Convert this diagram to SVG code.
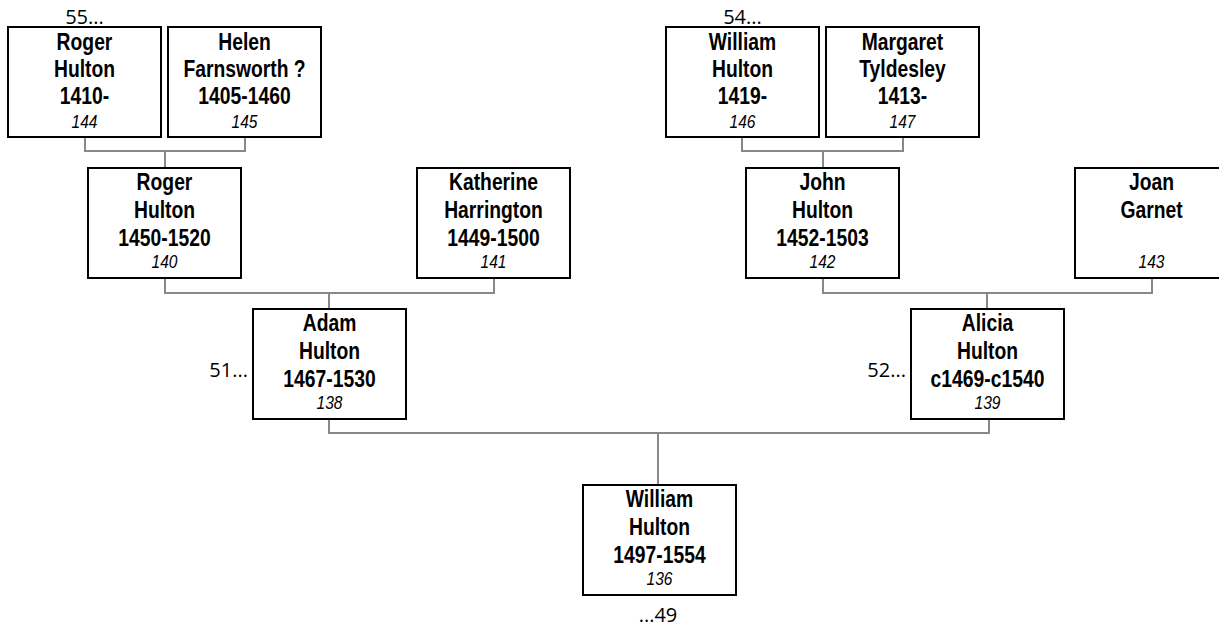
<svg xmlns="http://www.w3.org/2000/svg" width="1219" height="628" viewBox="0 0 1219 628">
<style>
.box{fill:#fff;stroke:#000;stroke-width:2}
.n{font-family:"Liberation Sans",Arial,sans-serif;font-weight:bold;font-size:23px;text-anchor:middle;fill:#000}
.id{font-family:"Liberation Sans",Arial,sans-serif;font-style:italic;font-size:18.5px;text-anchor:middle;fill:#000}
.ref{font-family:"Open Sans","Noto Sans",sans-serif;font-size:20px;fill:#000}
.c{fill:none;stroke:#888;stroke-width:2}
</style>
<rect width="1219" height="628" fill="#fff"/>
<g id="connectors">
<path class="c" d="M85,137V151H245V137M165,151V168"/>
<path class="c" d="M165,278V293H494V278M329,293V309"/>
<path class="c" d="M742,137V151H903V137M823,151V168"/>
<path class="c" d="M823,278V293H1152V278M987,293V309"/>
<path class="c" d="M329,419V433H989V419M658,433V485"/>
</g>
<g id="p144">
<rect class="box" x="8" y="27" width="153" height="110"/>
<text class="n" transform="matrix(0.84,0,0,1,84.5,50)">Roger</text>
<text class="n" transform="matrix(0.84,0,0,1,84.5,77)">Hulton</text>
<text class="n" transform="matrix(0.84,0,0,1,84.5,104)">1410-</text>
<text class="id" transform="matrix(0.84,0,0,1,84.5,128)">144</text>
<text class="ref" x="84.5" y="24" text-anchor="middle">55...</text>
</g>
<g id="p145">
<rect class="box" x="168" y="27" width="153" height="110"/>
<text class="n" transform="matrix(0.84,0,0,1,244.5,50)">Helen</text>
<text class="n" transform="matrix(0.84,0,0,1,244.5,77)">Farnsworth ?</text>
<text class="n" transform="matrix(0.84,0,0,1,244.5,104)">1405-1460</text>
<text class="id" transform="matrix(0.84,0,0,1,244.5,128)">145</text>
</g>
<g id="p146">
<rect class="box" x="666" y="27" width="153" height="110"/>
<text class="n" transform="matrix(0.84,0,0,1,742.5,50)">William</text>
<text class="n" transform="matrix(0.84,0,0,1,742.5,77)">Hulton</text>
<text class="n" transform="matrix(0.84,0,0,1,742.5,104)">1419-</text>
<text class="id" transform="matrix(0.84,0,0,1,742.5,128)">146</text>
<text class="ref" x="742.5" y="24" text-anchor="middle">54...</text>
</g>
<g id="p147">
<rect class="box" x="826" y="27" width="153" height="110"/>
<text class="n" transform="matrix(0.84,0,0,1,902.5,50)">Margaret</text>
<text class="n" transform="matrix(0.84,0,0,1,902.5,77)">Tyldesley</text>
<text class="n" transform="matrix(0.84,0,0,1,902.5,104)">1413-</text>
<text class="id" transform="matrix(0.84,0,0,1,902.5,128)">147</text>
</g>
<g id="p140">
<rect class="box" x="88" y="168" width="153" height="110"/>
<text class="n" transform="matrix(0.84,0,0,1,164.5,190)">Roger</text>
<text class="n" transform="matrix(0.84,0,0,1,164.5,218)">Hulton</text>
<text class="n" transform="matrix(0.84,0,0,1,164.5,246)">1450-1520</text>
<text class="id" transform="matrix(0.84,0,0,1,164.5,268)">140</text>
</g>
<g id="p141">
<rect class="box" x="417" y="168" width="153" height="110"/>
<text class="n" transform="matrix(0.84,0,0,1,493.5,190)">Katherine</text>
<text class="n" transform="matrix(0.84,0,0,1,493.5,218)">Harrington</text>
<text class="n" transform="matrix(0.84,0,0,1,493.5,246)">1449-1500</text>
<text class="id" transform="matrix(0.84,0,0,1,493.5,268)">141</text>
</g>
<g id="p142">
<rect class="box" x="746" y="168" width="153" height="110"/>
<text class="n" transform="matrix(0.84,0,0,1,822.5,190)">John</text>
<text class="n" transform="matrix(0.84,0,0,1,822.5,218)">Hulton</text>
<text class="n" transform="matrix(0.84,0,0,1,822.5,246)">1452-1503</text>
<text class="id" transform="matrix(0.84,0,0,1,822.5,268)">142</text>
</g>
<g id="p143">
<rect class="box" x="1075" y="168" width="153" height="110"/>
<text class="n" transform="matrix(0.84,0,0,1,1151.5,190)">Joan</text>
<text class="n" transform="matrix(0.84,0,0,1,1151.5,218)">Garnet</text>
<text class="id" transform="matrix(0.84,0,0,1,1151.5,268)">143</text>
</g>
<g id="p138">
<rect class="box" x="253" y="309" width="153" height="110"/>
<text class="n" transform="matrix(0.84,0,0,1,329.5,331)">Adam</text>
<text class="n" transform="matrix(0.84,0,0,1,329.5,359)">Hulton</text>
<text class="n" transform="matrix(0.84,0,0,1,329.5,387)">1467-1530</text>
<text class="id" transform="matrix(0.84,0,0,1,329.5,409)">138</text>
<text class="ref" x="248" y="377" text-anchor="end">51...</text>
</g>
<g id="p139">
<rect class="box" x="911" y="309" width="153" height="110"/>
<text class="n" transform="matrix(0.84,0,0,1,987.5,331)">Alicia</text>
<text class="n" transform="matrix(0.84,0,0,1,987.5,359)">Hulton</text>
<text class="n" transform="matrix(0.84,0,0,1,987.5,387)">c1469-c1540</text>
<text class="id" transform="matrix(0.84,0,0,1,987.5,409)">139</text>
<text class="ref" x="906" y="377" text-anchor="end">52...</text>
</g>
<g id="p136">
<rect class="box" x="583" y="485" width="153" height="110"/>
<text class="n" transform="matrix(0.84,0,0,1,659.5,507)">William</text>
<text class="n" transform="matrix(0.84,0,0,1,659.5,535)">Hulton</text>
<text class="n" transform="matrix(0.84,0,0,1,659.5,563)">1497-1554</text>
<text class="id" transform="matrix(0.84,0,0,1,659.5,585)">136</text>
<text class="ref" x="658" y="622" text-anchor="middle">...49</text>
</g>
</svg>
